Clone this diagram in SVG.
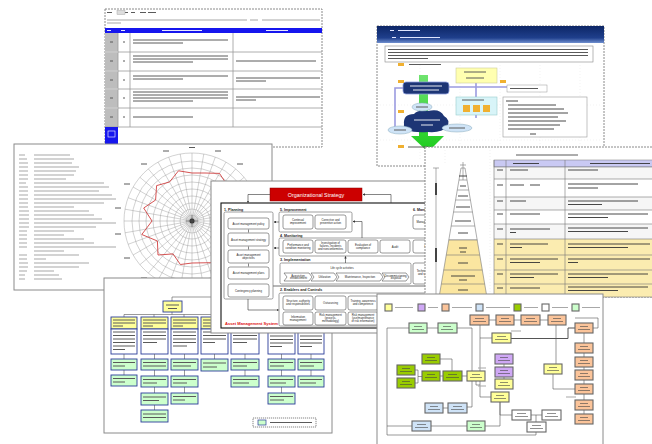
<svg xmlns="http://www.w3.org/2000/svg" width="652" height="444" viewBox="0 0 652 444">
<style>
.doc{fill:#fff;stroke:#8a8a8a;stroke-width:1}
.dsh{stroke-dasharray:2 1}
.tl{stroke:#a8a8a8;stroke-width:1.2;fill:none}
.td{stroke:#5a5a5a;stroke-width:1;fill:none}
.tk{stroke:#333;stroke-width:0.9;fill:none}
.tw{stroke:#fff;stroke-width:0.9;fill:none}
.ln{stroke:#555;stroke-width:0.6;fill:none}
.bx{fill:#fff;stroke:#555;stroke-width:0.6}
.pn{fill:none;stroke:#777;stroke-width:0.7}
.t{font-family:"Liberation Sans",Arial,sans-serif;font-size:2.8px;fill:#222;text-anchor:middle}
.sec{font-family:"Liberation Sans",Arial,sans-serif;font-size:3.6px;font-weight:bold;fill:#222}
.ob{fill:#fff;stroke:#2a3c9a;stroke-width:0.9}
.oy{fill:#ffff99;stroke:#2a3c9a;stroke-width:0.9}
.og{fill:#ccffcc;stroke:#2a3c9a;stroke-width:0.9}
.fb{stroke:#666;stroke-width:1.1}
.cy{fill:#ffff99}.cp{fill:#cfa8f5}.co{fill:#fbc49a}.cb{fill:#cfe3f7}.cd{fill:#99cc00}.cw{fill:#fff}.cg{fill:#ccffcc}
</style>
<defs>
<marker id="ah" viewBox="0 0 6 6" refX="5" refY="3" markerWidth="4" markerHeight="4" orient="auto"><path d="M0 0L6 3L0 6Z" fill="#333"/></marker>
<linearGradient id="hdr" x1="0" y1="0" x2="0" y2="1"><stop offset="0" stop-color="#0d2666"/><stop offset="0.7" stop-color="#1f3f8c"/><stop offset="1" stop-color="#6f8fcf"/></linearGradient>
<linearGradient id="grn" x1="0" y1="0" x2="0" y2="1"><stop offset="0" stop-color="#6fe36f"/><stop offset="1" stop-color="#1ccc1c"/></linearGradient>
</defs>
<rect width="652" height="444" fill="#fff"/>

<!-- checklist table sheet -->
<g id="table-sheet">
<rect class="doc dsh" x="105" y="9" width="217" height="138"/>
<path class="td" d="M107 12.5h5M122 12.5h6M131 12.5h4M140 12.5h6M148 12.5h8"/>
<rect x="117" y="10.5" width="8" height="4" fill="#ddd" stroke="#999" stroke-width="0.4"/>
<path class="tl" d="M107 20h140M250 20h8M262 20h58M107 23h14"/>
<rect x="105" y="28" width="217" height="5" fill="#1616ee"/>
<path class="tw" d="M107 30.5h4M121 30.5h4M162 30.5h40M266 30.5h22"/>
<rect x="105" y="33" width="13" height="94" fill="#bdbdbd"/>
<path stroke="#999" stroke-width="0.8" d="M105 52H322M105 71H322M105 89H322M105 108H322M105 127H322M118 33V127M130 33V127M233 33V127"/>
<path stroke="#fff" stroke-width="0.6" d="M105 52h13M105 71h13M105 89h13M105 108h13"/>
<path class="td" d="M110 42h3M123 42h2M110 61h3M123 61h2M110 80h3M123 80h2M110 98h3M123 98h2M110 117h3M123 117h2"/>
<path class="td" d="M133 40h95M133 43h50M133 56h95M133 59h95M133 62h60M236 61h80M133 76h95M133 79h50M236 78h84M236 81h30M133 92h95M133 95h95M133 98h95M133 101h60M236 97h84M236 100h20M133 117h60"/>
<rect x="105" y="127" width="13" height="20" fill="#1616ee"/>
<rect x="108" y="131" width="7" height="6" fill="none" stroke="#fff" stroke-width="0.6"/>
</g>

<!-- presentation slide -->
<g id="slide-sheet">
<rect class="doc dsh" x="377" y="26" width="227" height="140"/>
<rect x="377" y="26" width="227" height="17" fill="url(#hdr)"/>
<path stroke="#dfe6ff" stroke-width="1" d="M390 30.5h4M398 30.5h22M392 37.5h4M400 37.5h40"/>
<path stroke="#e4e4e4" stroke-width="0.5" stroke-dasharray="1 2" d="M420 65V160M460 65V160M500 65V160M540 65V160M580 65V160M380 105H600M380 140H600"/>
<rect x="385" y="46" width="208" height="16" fill="#fff" stroke="#888" stroke-width="0.6"/>
<path class="td" d="M388 49.5h200M388 52.5h200M388 55.5h200M388 58.5h40"/>
<path fill="none" stroke="#9b9be0" stroke-width="1.6" d="M403 88H395V128M449 87H507M476 83V97M476 115V118"/>
<path d="M419 75H428V136H444L428 152L411 136H419Z" fill="url(#grn)"/>
<rect x="403" y="82" width="46" height="12" rx="3" fill="#1d3575" stroke="#8fa0dd" stroke-width="0.8"/>
<path class="tw" d="M410 86h32M413 90h26"/>
<path d="M404 124Q403 114 414 114Q418 109 428 111Q440 108 444 116Q451 120 447 127Q442 133 428 132Q414 133 408 130Q403 129 404 124Z" fill="#1d3575"/>
<path class="tw" d="M414 120h26M421 125h12"/>
<ellipse cx="422" cy="107" rx="10" ry="4" fill="#cfe4f7" stroke="#8ab" stroke-width="0.5"/>
<ellipse cx="400" cy="130" rx="12" ry="4" fill="#cfe4f7" stroke="#8ab" stroke-width="0.5"/>
<ellipse cx="457" cy="128" rx="15" ry="4" fill="#cfe4f7" stroke="#8ab" stroke-width="0.5"/>
<path class="td" d="M416 107h12M394 130h12M449 128h16"/>
<rect x="456" y="68" width="41" height="15" fill="#ffffb0" stroke="#cc9" stroke-width="0.6"/>
<path class="td" d="M464 72h22M466 78h18"/>
<rect x="456" y="97" width="41" height="18" fill="#d8f4f8" stroke="#9cc" stroke-width="0.6"/>
<path class="td" d="M462 100h22"/>
<rect x="463" y="105" width="7" height="7" fill="#f0b030"/><rect x="473" y="105" width="7" height="7" fill="#f0b030"/><rect x="483" y="105" width="7" height="7" fill="#f0b030"/>
<rect x="398" y="63" width="6" height="3" fill="#f0b030"/><rect x="398" y="80" width="6" height="3" fill="#f0b030"/><rect x="398" y="110" width="6" height="3" fill="#f0b030"/><rect x="398" y="145" width="6" height="3" fill="#f0b030"/><rect x="500" y="80" width="6" height="3" fill="#f0b030"/>
<path class="td" d="M409 64.5h32M408 147h20"/>
<rect x="507" y="85" width="40" height="7" fill="#fff" stroke="#999" stroke-width="0.5"/>
<path class="td" d="M510 88.5h28"/>
<rect x="503" y="97" width="84" height="40" fill="#fff" stroke="#999" stroke-width="0.6"/>
<path class="tk" d="M506 101h12M508 105h48M508 109h56M508 113h60M508 117h50M508 121h58M508 125h52M508 129h46M530 134h6"/>
</g>

<!-- radar chart sheet -->
<g id="radar-sheet">
<rect class="doc" x="14" y="144" width="258" height="146"/>
<path class="tl" d="M19 155h6M34 155h36M19 159h8M34 159h40M19 163h9M34 163h38M19 167h9M34 167h45M19 171h9M34 171h42M19 175h9M34 175h40M19 179h9M34 179h32M19 183h7M34 183h70M19 187h9M34 187h75M19 191h9M34 191h65M19 195h9M34 195h78M19 199h9M34 199h82M19 203h9M34 203h70M19 207h9M34 207h40M19 211h10M34 211h55M19 215h10M34 215h60M19 219h10M34 219h68M19 223h10M34 223h82M19 227h10M34 227h62M19 231h8M34 231h40M19 235h8M34 235h30M19 239h8M34 239h50M19 243h8M34 243h60M19 247h8M34 247h82M34 251h30M19 255h8M34 255h45M19 259h8M34 259h12M19 263h9M34 263h55M19 267h9M34 267h45M19 271h8M34 271h20M19 275h6M34 275h25M19 279h6M34 279h28"/>
<g fill="none" stroke="#9a9a9a" stroke-width="0.45">
<circle cx="192" cy="221" r="68"/><circle cx="192" cy="221" r="60"/><circle cx="192" cy="221" r="53"/><circle cx="192" cy="221" r="46"/><circle cx="192" cy="221" r="39"/><circle cx="192" cy="221" r="32"/><circle cx="192" cy="221" r="25"/><circle cx="192" cy="221" r="18"/><circle cx="192" cy="221" r="12"/><circle cx="192" cy="221" r="6"/>
<path d="M192 153L192 289M203.8 154L180.2 288M215.3 157.1L168.7 284.9M226 162.1L158 279.9M235.7 168.9L148.3 273.1M244.1 177.3L139.9 264.7M250.9 187L133.1 255M255.9 197.7L128.1 244.3M259 209.2L125 232.8M260 221L124 221M259 232.8L125 209.2M255.9 244.3L128.1 197.7M250.9 255L133.1 187M244.1 264.7L139.9 177.3M235.7 273.1L148.3 168.9M226 279.9L158 162.1M215.3 284.9L168.7 157.1M203.8 288L180.2 154"/>
</g>
<circle cx="192" cy="221" r="2.5" fill="#333"/>
<path stroke="#555" stroke-width="0.6" d="M186 221h12M192 215v12"/>
<path class="td" d="M189 147.5h6M215 151h6M237 164h6M254 184h6M263 208h6M115 208h6M124 184h6M141 164h6M163 151h6M115 234h6M124 258h6M141 278h6"/>
<path fill="none" stroke="#d04040" stroke-width="0.9" d="M192 173L205 173L219.5 173.4L227.4 185.6L237 195L242 221L231 243.5L216 262.6L192 263L180.4 264.5L173 253.9L158 255L157.4 241L141.8 234.5L152 221L143.7 208L155.6 200L156.6 185.6L169.5 182L178.5 170.8Z"/>
</g>

<!-- organisation chart sheet -->
<g id="org-sheet">
<rect class="doc" x="104" y="278" width="228" height="155"/>
<path class="ln" d="M172 301V297H332M172 312V314.5M124 314.5H311M124 314.5V317M154 314.5V317M184 314.5V317M214 314.5V317M245 314.5V317M281 314.5V317M311 314.5V317"/>
<rect class="oy" x="163" y="301" width="19" height="11"/>
<path class="td" d="M166 305h13M168 308.5h9"/>
<g id="org-col1"><rect class="oy" x="111" y="317" width="26" height="12"/><rect class="ob" x="111" y="329" width="26" height="25"/></g>
<g id="org-col2"><rect class="oy" x="141" y="317" width="27" height="12"/><rect class="ob" x="141" y="329" width="27" height="25"/></g>
<g id="org-col3"><rect class="oy" x="171" y="317" width="27" height="12"/><rect class="ob" x="171" y="329" width="27" height="25"/></g>
<g id="org-col4"><rect class="oy" x="201" y="317" width="27" height="12"/><rect class="ob" x="201" y="329" width="27" height="25"/></g>
<g id="org-col5"><rect class="oy" x="231" y="317" width="28" height="12"/><rect class="ob" x="231" y="329" width="28" height="25"/></g>
<g id="org-col6"><rect class="oy" x="268" y="317" width="27" height="12"/><rect class="ob" x="268" y="329" width="27" height="25"/></g>
<g id="org-col7"><rect class="oy" x="298" y="317" width="26" height="12"/><rect class="ob" x="298" y="329" width="26" height="25"/></g>
<path class="td" d="M113 320h22M113 323h22M113 326h10M143 320h23M143 323h23M143 326h10M173 320h23M173 323h23M173 326h10M203 320h23M203 323h23M203 326h10M233 320h24M233 323h24M270 320h23M300 320h22"/>
<path class="td" d="M113 332h22M113 335.5h22M113 339h22M113 342.5h22M113 346h22M113 349.5h12M143 332h23M143 335.5h23M143 339h23M143 342.5h14M173 332h23M173 335.5h23M173 339h23M173 342.5h23M173 346h14M203 332h23M203 335.5h23M203 339h23M203 342.5h12M233 332h24M233 335.5h24M233 339h24M233 342.5h14M270 336h23M270 339.5h23M270 343h23M270 346.5h12M300 336h22M300 339.5h22M300 343h22M300 346.5h12"/>
<path class="ln" d="M124 354V359M124 370V375M154.5 354V359M154.5 370V376M154.5 387V393M154.5 405V410M184.5 354V359M184.5 370V376M184.5 387V393M214.5 354V359M245 354V359M245 370V376M281.5 354V359M281.5 370V376M281.5 387V393M311 354V359M311 370V376"/>
<g id="org-green">
<rect class="og" x="111" y="359" width="26" height="11"/><rect class="og" x="111" y="375" width="26" height="11"/>
<rect class="og" x="141" y="359" width="27" height="11"/><rect class="og" x="141" y="376" width="27" height="11"/><rect class="og" x="141" y="393" width="27" height="12"/><rect class="og" x="141" y="410" width="27" height="12"/>
<rect class="og" x="171" y="359" width="27" height="11"/><rect class="og" x="171" y="376" width="27" height="11"/><rect class="og" x="171" y="393" width="27" height="11"/>
<rect class="og" x="201" y="359" width="27" height="12"/>
<rect class="og" x="231" y="359" width="28" height="11"/><rect class="og" x="231" y="376" width="28" height="11"/>
<rect class="og" x="268" y="359" width="27" height="11"/><rect class="og" x="268" y="376" width="27" height="11"/><rect class="og" x="268" y="393" width="27" height="11"/>
<rect class="og" x="298" y="359" width="26" height="11"/><rect class="og" x="298" y="376" width="26" height="11"/>
</g>
<path class="td" d="M113 362.5h22M113 366h12M113 378.5h22M113 382h12M143 362.5h23M143 366h23M143 379.5h23M143 383h14M143 397h23M143 400.5h16M143 414h23M143 417.5h23M173 362.5h23M173 366h18M173 379.5h23M173 383h14M173 396.5h23M173 400h12M203 363h23M203 367h14M233 362.5h24M233 366h14M233 379.5h24M233 383h16M270 362.5h23M270 366h14M270 379.5h23M270 383h16M270 396.5h23M270 400h14M300 362.5h22M300 366h14M300 379.5h22M300 383h16"/>
<rect x="253" y="418" width="63" height="9" fill="#fff" stroke="#333" stroke-width="0.6" stroke-dasharray="1.2 0.8"/>
<rect x="258" y="420" width="8" height="5" fill="#ccffcc" stroke="#2a3c9a" stroke-width="0.7"/>
<path class="td" d="M270 422.5h42"/>
</g>

<!-- asset management system sheet -->
<g id="ams-sheet">
<rect class="doc" x="211" y="181" width="220" height="152"/>
<g id="org-strategy">
<rect x="270" y="188" width="92" height="13" fill="#cc0000" stroke="#800" stroke-width="0.5"/>
<text x="316" y="196.6" font-family="Liberation Sans, Arial, sans-serif" font-size="5.4" fill="#fff" text-anchor="middle">Organizational Strategy</text>
</g>
<rect x="221" y="203" width="215" height="125" fill="none" stroke="#111" stroke-width="1.1"/>
<path stroke="#111" stroke-width="0.6" d="M273 286H431"/>
<text class="sec" x="224" y="210.5">1. Planning</text>
<text class="sec" x="280" y="210.5">5. Improvement</text>
<text class="sec" x="413" y="210.5">6. Management Review</text>
<text class="sec" x="280" y="236.5">4. Monitoring</text>
<text class="sec" x="280" y="261">3. Implementation</text>
<text class="sec" x="280" y="291">2. Enablers and Controls</text>
<text x="225" y="325" font-family="Liberation Sans, Arial, sans-serif" font-size="4.1" font-weight="bold" fill="#dd1111">Asset Management System</text>
<rect class="pn" x="224" y="212" width="49" height="87" rx="1.5"/>
<rect class="pn" x="279" y="212" width="73" height="20" rx="1.5"/>
<rect class="pn" x="279" y="238" width="170" height="18" rx="1.5"/>
<rect class="pn" x="280" y="263" width="131" height="21" rx="1.5"/>
<rect class="pn" x="279" y="293" width="170" height="33" rx="1.5"/>
<g id="am-policy"><rect class="bx" x="228" y="218" width="41" height="11" rx="2"/><text class="t" x="248.5" y="224.5">Asset management policy</text></g>
<g id="am-strategy"><rect class="bx" x="228" y="233" width="41" height="13" rx="2"/><text class="t" x="248.5" y="240.5">Asset management strategy</text></g>
<g id="am-objectives"><rect class="bx" x="228" y="250" width="41" height="13" rx="2"/><text class="t" x="248.5" y="255.5">Asset management<tspan x="248.5" dy="3.2">objectives</tspan></text></g>
<g id="am-plans"><rect class="bx" x="228" y="267" width="41" height="12" rx="2"/><text class="t" x="248.5" y="274">Asset management plans</text></g>
<g id="contingency"><rect class="bx" x="228" y="284" width="41" height="13" rx="2"/><text class="t" x="248.5" y="291.5">Contingency planning</text></g>
<g id="continual"><rect class="bx" x="283" y="215" width="30" height="14" rx="2"/><text class="t" x="298" y="221">Continual<tspan x="298" dy="3.2">improvement</tspan></text></g>
<g id="corrective"><rect class="bx" x="315" y="215" width="31" height="14" rx="2"/><text class="t" x="330.5" y="221">Corrective and<tspan x="330.5" dy="3.2">preventive action</tspan></text></g>
<g id="mgmt-review"><rect class="bx" x="413" y="215" width="32" height="14" rx="2"/><text class="t" x="429" y="223">Management review</text></g>
<g id="performance"><rect class="bx" x="283" y="240" width="30" height="13" rx="2"/><text class="t" x="298" y="245.8">Performance and<tspan x="298" dy="3.2">condition monitoring</tspan></text></g>
<g id="investigation"><rect class="bx" x="315" y="240" width="31" height="13" rx="2"/><text class="t" x="330.5" y="244.2" font-size="2.5">Investigation of<tspan x="330.5" dy="2.9">failures, incidents</tspan><tspan x="330.5" dy="2.9">and nonconformities</tspan></text></g>
<g id="compliance"><rect class="bx" x="348" y="240" width="30" height="13" rx="2"/><text class="t" x="363" y="245.8">Evaluation of<tspan x="363" dy="3.2">compliance</tspan></text></g>
<g id="audit"><rect class="bx" x="380" y="240" width="30" height="13" rx="2"/><text class="t" x="395" y="247.5">Audit</text></g>
<g id="review-box"><rect class="bx" x="413" y="240" width="32" height="13" rx="2"/><text class="t" x="429" y="247.5">Review</text></g>
<text class="t" x="342" y="269" font-size="3">Life cycle activities</text>
<g id="lifecycle">
<path class="bx" d="M284 273H309L312 277L309 281H284L287 277Z"/><text class="t" x="298.5" y="276.6" font-size="2.5">Acquisition,<tspan x="298.5" dy="2.8">enhancement</tspan></text>
<path class="bx" d="M311 273H334L337 277L334 281H311L314 277Z"/><text class="t" x="324.5" y="278">Utilization</text>
<path class="bx" d="M336 273H380L383 277L380 281H336L339 277Z"/><text class="t" x="360" y="278">Maintenance, Inspection</text>
<path class="bx" d="M382 273H406L409 277L406 281H382L385 277Z"/><text class="t" x="396" y="276.6" font-size="2.5">Decommissioning,<tspan x="396" dy="2.8">disposal</tspan></text>
</g>
<g id="technical"><rect class="bx" x="413" y="263" width="32" height="21" rx="2"/><text class="t" x="429" y="272">Technical standards<tspan x="429" dy="3.2">and specifications</tspan></text></g>
<g id="structure"><rect class="bx" x="283" y="296" width="30" height="14" rx="2"/><text class="t" x="298" y="302">Structure, authority<tspan x="298" dy="3.2">and responsibilities</tspan></text></g>
<g id="outsourcing"><rect class="bx" x="315" y="296" width="31" height="14" rx="2"/><text class="t" x="330.5" y="304">Outsourcing</text></g>
<g id="training"><rect class="bx" x="348" y="296" width="30" height="14" rx="2"/><text class="t" x="363" y="302">Training, awareness<tspan x="363" dy="3.2">and competence</tspan></text></g>
<g id="communication"><rect class="bx" x="380" y="296" width="30" height="14" rx="2"/><text class="t" x="395" y="304">Communication</text></g>
<g id="information"><rect class="bx" x="283" y="312" width="30" height="13" rx="2"/><text class="t" x="298" y="317.5">Information<tspan x="298" dy="3.2">management</tspan></text></g>
<g id="risk-process"><rect class="bx" x="315" y="312" width="31" height="13" rx="2"/><text class="t" x="330.5" y="316.3" font-size="2.6">Risk management<tspan x="330.5" dy="2.9">(process,</tspan><tspan x="330.5" dy="2.9">methodology)</tspan></text></g>
<g id="risk-info"><rect class="bx" x="348" y="312" width="30" height="13" rx="2"/><text class="t" x="363" y="316.3" font-size="2.5">Risk management<tspan x="363" dy="2.9">(use/maintenance</tspan><tspan x="363" dy="2.9">of risk information)</tspan></text></g>
<g id="ams-connectors" fill="none" stroke="#333" stroke-width="0.6">
<path d="M270 194.5H248V202.5" marker-end="url(#ah)"/>
<path d="M391 203V194.5H363" marker-end="url(#ah)"/>
<path d="M279 222H274" marker-end="url(#ah)"/>
<path d="M279 248H274" marker-end="url(#ah)"/>
<path d="M362 238V221.5H353" marker-end="url(#ah)"/>
<path d="M345.5 263V256.5" marker-end="url(#ah)"/>
<path d="M248.5 229.5V232.5M248.5 246.5V249.5M248.5 263.5V266.5"/>
<path d="M248 299V310H278.5" marker-end="url(#ah)"/>
</g>
</g>

<!-- level pyramid sheet -->
<g id="pyramid-sheet">
<rect class="doc dsh" x="425" y="147" width="232" height="150"/>
<path stroke="#e0e0e0" stroke-width="0.5" stroke-dasharray="1 2" d="M490 150V297M445 150V165"/>
<path class="td" d="M516 155h62"/>
<rect x="494" y="160" width="160" height="7" fill="#c9c9f3" stroke="#777" stroke-width="0.5"/>
<rect x="494" y="167" width="160" height="12" fill="#f6f6f6"/>
<rect x="494" y="197" width="160" height="13" fill="#f6f6f6"/>
<rect x="494" y="224" width="160" height="15" fill="#f6f6f6"/>
<rect x="494" y="239" width="160" height="58" fill="#fbecb0"/>
<path stroke="#777" stroke-width="0.6" d="M494 167H652M494 179H652M494 197H652M494 210H652M494 224H652M494 239H652M494 255H652M494 270H652M494 284H652M494 297H652M494 160V297M506 160V297M565 160V297"/>
<path class="tk" d="M513 163.5h26M590 163.5h60M497 170h6M510 170h18M568 170h30M497 185h6M510 185h14M530 185h10M568 184h70M568 188h30M497 201h6M510 201h16M568 201h70M568 204.5h34M497 214h6M510 214h30M568 214h80M568 217.5h40M497 229h6M510 229h40M568 228h80M568 231.5h60M510 232.5h6M497 244h6M510 244h38M510 247.5h12M568 244h82M568 247.5h60M497 259h6M510 259h48M510 262.5h30M568 259h82M568 262.5h10M497 274h6M510 274h48M510 277.5h24M568 274h80M568 277.5h40M497 288h6M510 288h30M568 287h80M568 290.5h50"/>
<path d="M461 168H465L477.2 240H448.8Z" fill="#fff" stroke="#777" stroke-width="0.6"/>
<path d="M448.8 240H477.2L486.9 297H439.1Z" fill="#fbe6a0" stroke="#777" stroke-width="0.6"/>
<path stroke="#777" stroke-width="0.6" d="M463 162V180M460 165h6M459 180h8M457.3 190h11.4M455.6 200h14.8M453.5 212h19M451.1 226h23.8M446.2 255h33.6M443.7 270h38.6M441.3 284h43.4"/>
<path class="tk" d="M459 176h8M460 186h6M458 196h10M456 207h14M455 221h16M458 233h10M459 248h8M460 252h6M458 263h10M451 276h24M459 280h8M458 290h10"/>
<path stroke="#777" stroke-width="0.6" d="M436 168V297M433 168h6M433 297h6"/>
<rect x="435" y="183" width="2" height="12" fill="#444"/>
<rect x="435" y="248" width="2" height="14" fill="#444"/>
</g>

<!-- business flow sheet -->
<g id="flow-sheet">
<rect class="doc" x="377" y="294" width="226" height="155"/>
<g id="flow-legend">
<rect class="fb cy" x="385" y="304" width="7" height="7"/><rect class="fb cp" x="418" y="304" width="7" height="7"/><rect class="fb co" x="442" y="304" width="7" height="7"/><rect class="fb cb" x="476" y="304" width="7" height="7"/><rect class="fb cd" x="514" y="304" width="7" height="7"/><rect class="fb cw" x="542" y="304" width="7" height="7"/><rect class="fb cg" x="572" y="304" width="7" height="7"/>
<path class="tl" stroke-width="0.9" d="M395 307.5h18M428 307.5h10M452 307.5h20M486 307.5h24M524 307.5h14M552 307.5h16M582 307.5h18"/>
</g>
<g id="flow-connectors" fill="none" stroke="#555" stroke-width="0.6">
<path d="M387 328H409M387 328V435H536V432M427 328H438M457 328H472V407H467M489 320H496M514 320H521M540 320H548M480 325V397H491M480 338H492M556 325V364M553 374V389H575M584 333V343M584 353V357M584 367V370M584 380V384M584 394V400M584 410V414M415 370H418V383H415M418 376.5H422M440 376H443M462 376H467M440 359H452V371M476 381V385H480M500 402V415H512M531 415H542M536 415V422M443 408H448M387 426H412M431 426H467M485 426H500V402M504 364V367M504 377V379M593 328H598V318H575"/>
<path stroke-width="1" d="M511 338.5H568V328H575"/>
</g>
<path class="tl" stroke-width="0.8" d="M511 331h10M478 368h8M478 386h8M566 397h10M576 340h0M560 398h0"/>
<g id="flow-boxes">
<rect class="fb cg" x="409" y="323" width="18" height="10"/><rect class="fb cg" x="438" y="323" width="19" height="10"/>
<rect class="fb co" x="470" y="315" width="19" height="10"/><rect class="fb co" x="496" y="315" width="18" height="10"/><rect class="fb co" x="521" y="315" width="19" height="10"/><rect class="fb co" x="548" y="315" width="18" height="10"/>
<rect class="fb co" x="575" y="323" width="18" height="10"/><rect class="fb co" x="575" y="343" width="18" height="10"/><rect class="fb co" x="575" y="357" width="18" height="10"/><rect class="fb co" x="575" y="370" width="18" height="10"/><rect class="fb co" x="575" y="384" width="18" height="10"/><rect class="fb co" x="575" y="400" width="18" height="10"/><rect class="fb co" x="575" y="414" width="18" height="10"/>
<rect class="fb cy" x="492" y="333" width="19" height="10"/><rect class="fb cy" x="467" y="371" width="18" height="10"/><rect class="fb cy" x="544" y="364" width="18" height="10"/><rect class="fb cy" x="495" y="379" width="18" height="10"/><rect class="fb cy" x="491" y="392" width="18" height="10"/>
<rect class="fb cp" x="495" y="354" width="18" height="10"/><rect class="fb cp" x="495" y="367" width="18" height="10"/>
<rect class="fb cd" x="422" y="354" width="18" height="10"/><rect class="fb cd" x="397" y="365" width="18" height="10"/><rect class="fb cd" x="397" y="378" width="18" height="10"/><rect class="fb cd" x="422" y="371" width="18" height="10"/><rect class="fb cd" x="443" y="371" width="19" height="10"/>
<rect class="fb cb" x="425" y="403" width="18" height="10"/><rect class="fb cb" x="448" y="403" width="19" height="10"/><rect class="fb cb" x="412" y="421" width="19" height="10"/>
<rect class="fb cg" x="467" y="421" width="18" height="10"/>
<rect class="fb cw" x="512" y="410" width="19" height="10"/><rect class="fb cw" x="542" y="410" width="19" height="10"/><rect class="fb cw" x="527" y="422" width="19" height="10"/>
</g>
<path stroke="#444" stroke-width="0.6" d="M414 326.5h8M412 329.5h12M443 326.5h8M441 329.5h12M475 318.5h9M473 321.5h13M501 318.5h8M499 321.5h12M526 318.5h9M524 321.5h13M553 318.5h8M551 321.5h12M580 326.5h8M578 329.5h12M580 346.5h8M578 349.5h12M580 360.5h8M578 363.5h12M580 373.5h8M578 376.5h12M580 387.5h8M578 390.5h12M580 403.5h8M578 406.5h12M580 417.5h8M578 420.5h12M497 336.5h9M495 339.5h13M472 374.5h8M470 377.5h12M549 367.5h8M547 370.5h12M500 382.5h8M498 385.5h12M496 395.5h8M494 398.5h12M500 357.5h8M498 360.5h12M500 370.5h8M498 373.5h12M427 357.5h8M425 360.5h12M402 368.5h8M400 371.5h12M402 381.5h8M400 384.5h12M427 374.5h8M425 377.5h12M448 374.5h9M446 377.5h13M430 406.5h8M428 409.5h12M453 406.5h9M451 409.5h13M417 424.5h9M415 427.5h13M472 424.5h8M470 427.5h12M517 413.5h9M515 416.5h13M547 413.5h9M545 416.5h13M532 425.5h9M530 428.5h13"/>
</g>
</svg>
